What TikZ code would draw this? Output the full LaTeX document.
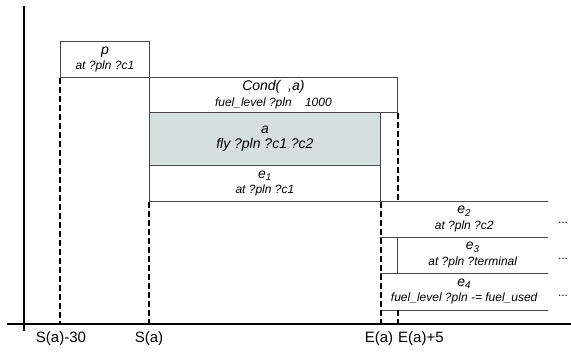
\documentclass[tikz,border=0pt]{standalone}
\usepackage{fontspec}
\setmainfont{Liberation Sans}
\newcommand\mainf{\fontsize{14}{15.5}\selectfont}
\newcommand\subf{\fontsize{12}{15.5}\selectfont}
\definecolor{afill}{RGB}{212,223,222}
\definecolor{edge}{RGB}{70,70,70}
\begin{document}
\begin{tikzpicture}[x=1pt,y=-1pt,
  box/.style={rectangle, draw=edge, fill=white, line width=0.8pt, inner sep=0pt, anchor=north west, align=center, font=\subf\itshape},
  openbox/.style={rectangle, inner sep=0pt, anchor=north west, align=center, font=\subf\itshape},
  eline/.style={draw=edge, line width=0.8pt},
  axis/.style={line width=1.3pt, black},
  tline/.style={line width=1.6pt, black, dash pattern=on 6pt off 3pt},
  axlabel/.style={inner sep=0pt, font=\fontsize{15}{17}\selectfont},
  more/.style={inner sep=0pt, font=\subf}]
\useasboundingbox (0,0) rectangle (571,352);

% boxes
\node[box, minimum width=89pt, minimum height=36pt] (p) at (60,41) {{\mainf p}\\at ?pln ?c1};
\node[box, minimum width=248pt, minimum height=35pt] (cond) at (149,77) {{\mainf Cond(\ \ ,a)}\\fuel\_level ?pln\ \ \ \ 1000};
\node[box, fill=afill, minimum width=231pt, minimum height=53pt] (a) at (149,112) {{\mainf a}\\{\mainf fly ?pln ?c1 ?c2}};
\node[box, minimum width=231pt, minimum height=36pt] (e1) at (149,165) {{\mainf e\textsubscript{1}}\\at ?pln ?c1};
\node[openbox, minimum width=168pt, minimum height=36pt] (e2) at (380,201) {{\mainf e\textsubscript{2}}\\at ?pln ?c2};
\node[openbox, minimum width=151pt, minimum height=36pt] (e3) at (397,237) {{\mainf e\textsubscript{3}}\\at ?pln ?terminal};
\node[openbox, minimum width=168pt, minimum height=37pt] (e4) at (380,273) {{\mainf e\textsubscript{4}}\\fuel\_level ?pln -= fuel\_used};

\draw[eline] (e2.north west) -- (e2.north east);
\draw[eline] (e2.south west) -- (e2.south east);
\draw[eline] (e3.north west) -- (e3.south west);
\draw[eline] (e4.north west) -- (e4.north east);
\draw[eline] (e4.south west) -- (e4.south east);

% ellipses
\node[more] (m2) at (563,223) {...};
\node[more] (m3) at (563,259) {...};
\node[more] (m4) at (563,296) {...};

% axes
\coordinate (yt) at (24,6);
\coordinate (yb) at (24,331);
\coordinate (xl) at (7,324);
\coordinate (xr) at (571,324);
\draw[axis] (yt) -- (yb);
\draw[axis] (xl) -- (xr);

% time lines
\draw[tline] (p.south west) -- (p.south west |- xl);
\draw[tline] (e1.south west) -- (e1.south west |- xl);
\draw[tline] (e1.south east) -- (e1.south east |- xl);
\draw[tline] (cond.south east) -- (cond.south east |- e2.north);
\draw[tline] (cond.south east |- e4.south) -- (cond.south east |- xl);

% axis labels
\node[axlabel] (l1) at (61,339) {S(a)-30};
\node[axlabel] (l2) at (149,339) {S(a)};
\node[axlabel] (l3) at (379,339) {E(a)};
\node[axlabel, anchor=west] (l4) at (398,339) {E(a)+5};
\end{tikzpicture}
\end{document}
